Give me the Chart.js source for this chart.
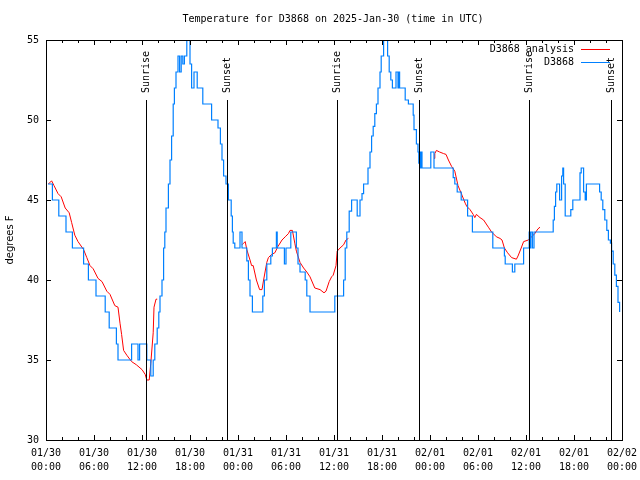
<!DOCTYPE html>
<html>
<head>
<meta charset="utf-8">
<script src="https://cdn.jsdelivr.net/npm/chart.js@4/dist/chart.umd.min.js"></script>
<style>
  html, body { margin: 0; padding: 0; background: #fff; }
  #myChart { display: block; }
</style>
</head>
<body>
<canvas id="myChart" width="640" height="480"></canvas>
<script>
// hours since 01/30 00:00 UTC
const tickDates = ['01/30', '01/30', '01/30', '01/30', '01/31', '01/31', '01/31', '01/31', '02/01', '02/01', '02/01', '02/01', '02/02'];
const tickTimes = ['00:00', '06:00', '12:00', '18:00', '00:00', '06:00', '12:00', '18:00', '00:00', '06:00', '12:00', '18:00', '00:00'];

const sunHours = [12.56, 22.6, 36.4, 46.6, 60.4, 70.6];
const sunLabels = ['Sunrise', 'Sunset', 'Sunrise', 'Sunset', 'Sunrise', 'Sunset'];

// D3868 observations (stepped)
const obsHours = [0.25, 0.8, 1.6, 2.5, 3.3, 4.7, 5.3, 6.25, 7.4, 7.9, 8.8, 9.0, 10.7, 11.5, 11.7, 12.6, 13.1, 13.4, 13.6, 13.9,
  14.1, 14.25, 14.5, 14.7, 14.85, 15.0, 15.3, 15.5, 15.7, 15.9, 16.05, 16.25, 16.5, 16.7, 16.9, 17.1, 17.3, 17.6, 17.9, 18.0,
  18.2, 18.5, 18.9, 19.6, 20.7, 21.5, 21.8, 22.0, 22.2, 22.5, 22.8, 23.15, 23.3, 23.4, 23.6, 24.25, 24.5, 25.1, 25.3, 25.5,
  25.8, 27.1, 27.3, 27.6, 28.1, 28.3, 28.8, 28.9, 29.8, 30.0, 30.6, 31.3, 31.5, 31.75, 32.4, 32.6, 33.0, 36.1, 37.2, 37.4,
  37.6, 37.9, 38.2, 38.9, 39.25, 39.5, 39.7, 40.25, 40.5, 40.7, 40.9, 41.1, 41.3, 41.5, 41.75, 41.9, 42.2, 42.7, 42.9, 43.1,
  43.3, 43.75, 44.0, 44.1, 44.2, 44.9, 45.3, 45.9, 46.0, 46.3, 46.5, 46.6, 46.7, 46.8, 46.9, 47.0, 48.1, 48.5, 50.9, 51.1,
  51.4, 51.9, 52.7, 53.3, 55.85, 57.3, 57.4, 58.3, 58.6, 59.7, 60.4, 60.5, 60.6, 60.8, 61.0, 63.4, 63.55, 63.7, 63.85, 64.2,
  64.45, 64.6, 64.7, 64.9, 65.6, 65.85, 66.75, 66.9, 67.2, 67.4, 67.55, 69.2, 69.4, 69.6, 69.85, 70.1, 70.3, 70.55, 70.7, 70.9,
  71.1, 71.3, 71.5, 71.7];
const obsTemps = [46, 45, 44, 43, 42, 41, 40, 39, 38, 37, 36, 35, 36, 35, 36, 35, 34, 35, 36, 37,
  38, 39, 40, 42, 43, 44.5, 46, 47.5, 49, 51, 52, 53, 54, 53, 54, 53.5, 54, 55, 55.5, 53.5,
  52, 53, 52, 51, 50, 49.5, 48.5, 47.5, 46.5, 46, 45, 44, 43, 42.3, 42, 43, 42, 41.2, 40, 39,
  38, 39, 40, 41, 41.5, 42, 43, 42, 41, 42, 43, 42, 41, 40.5, 40, 39, 38, 39, 40, 42,
  43, 44.3, 45, 44, 45, 45.4, 46, 47, 48, 49, 49.6, 50.4, 51, 52, 53, 54, 55, 54, 53, 52.5,
  52, 53, 52, 53, 52, 51.25, 51, 50.3, 49.4, 48.5, 48, 47.3, 48, 47, 48, 47, 48, 47, 46.4, 46,
  45.5, 45, 44, 43, 42, 41.5, 41, 40.5, 41, 42, 43, 42, 43, 42, 43, 43.75, 44.6, 45.5, 46, 45,
  46.5, 47, 46, 44, 44.4, 45, 46.7, 47, 45.5, 45, 46, 45.5, 45, 44.4, 43.75, 43.1, 42.5, 42.3, 41.8, 41,
  40.3, 39.6, 38.6, 38];

// D3868 analysis (null = gap)
const anaHours = [0.3, 0.7, 1.0, 1.5, 1.9, 2.4, 2.9, 3.2, 3.6, 4.0, 4.7, 5.1, 5.5, 5.9, 6.5, 7.0, 7.6, 8.0, 8.6, 9.0,
  9.25, 9.45, 9.7, 10.1, 10.7, 11.3, 12.0, 12.4, 12.6, 12.9, 13.1, 13.4, 13.5, 13.75, 13.9, 19,
  24.5, 24.7, 24.9, 25.1, 25.5, 25.7, 25.9, 26.3, 26.7, 27.0, 27.2, 27.6, 27.8, 28.2, 28.6, 29.0, 29.5, 29.9, 30.3, 30.5,
  30.8, 31.1, 31.3, 31.75, 32.2, 32.6, 33.0, 33.6, 34.25, 34.75, 35.0, 35.4, 35.7, 35.9, 36.25, 36.4, 36.75, 37.2, 37.5, 37.8, 43,
  48.5, 48.6, 48.8, 49.2, 49.7, 50.0, 50.3, 50.7, 51.1, 51.5, 52.0, 52.4, 52.6, 53.0, 53.4, 53.6, 53.8, 54.25, 54.7, 55.3,
  55.7, 56.3, 56.75, 57.0, 57.3, 57.7, 58.2, 58.8, 59.0, 59.4, 59.7, 60.3, 60.7, 61.1, 61.5, 61.75];
const anaTemps = [46.0, 46.2, 45.9, 45.4, 45.2, 44.5, 44.2, 43.6, 42.8, 42.4, 41.9, 41.4, 40.9, 40.7, 40.1, 39.9, 39.3, 39.1, 38.4, 38.3,
  37.3, 36.6, 35.6, 35.3, 34.9, 34.7, 34.4, 34.1, 33.75, 33.75, 34.8, 36.7, 38.3, 38.8, 38.8, null,
  42.2, 42.3, 42.4, 41.9, 41.25, 40.9, 40.9, 40.0, 39.4, 39.4, 40.0, 41.1, 41.4, 41.6, 41.7, 42.1, 42.5, 42.7, 42.9, 43.1,
  43.1, 42.3, 41.8, 41.1, 40.75, 40.5, 40.2, 39.5, 39.4, 39.2, 39.3, 39.9, 40.2, 40.3, 40.9, 41.8, 42.0, 42.2, 42.5, 42.6, null,
  47.6, 47.9, 48.1, 48.0, 47.9, 47.85, 47.5, 47.1, 46.8, 45.9, 45.3, 44.8, 44.6, 44.4, 44.1, 43.9, 44.1, 43.9, 43.75, 43.3,
  43.0, 42.7, 42.6, 42.5, 42.0, 41.7, 41.4, 41.3, 41.5, 42.0, 42.4, 42.5, 42.7, 42.9, 43.2, 43.3];

const obsColor = 'rgb(0,128,255)';
const anaColor = 'rgb(255,0,0)';
const monoFont = "'DejaVu Sans Mono', monospace";

const toPoints = (xs, ys) => xs.map((x, i) => ({ x: x, y: ys[i] }));

// frame, inward ticks, sunrise/sunset markers, title and key
const decorations = {
  id: 'decorations',
  afterDraw(chart) {
    const ctx = chart.ctx;
    const area = chart.chartArea;
    const xs = chart.scales.x;
    const ys = chart.scales.y;
    ctx.save();
    ctx.strokeStyle = '#000';
    ctx.lineWidth = 1;

    // sun lines
    sunHours.forEach((h, i) => {
      const px = Math.round(xs.getPixelForValue(h)) + 0.5;
      ctx.beginPath();
      ctx.moveTo(px, area.top + 60);
      ctx.lineTo(px, area.bottom);
      ctx.stroke();
      ctx.save();
      ctx.translate(px, area.top + 53);
      ctx.rotate(-Math.PI / 2);
      ctx.font = '10px ' + monoFont;
      ctx.fillStyle = '#000';
      ctx.textAlign = 'left';
      ctx.textBaseline = 'middle';
      ctx.fillText(sunLabels[i], 0, 0);
      ctx.restore();
    });

    // border
    ctx.strokeRect(Math.round(area.left) + 0.5, Math.round(area.top) + 0.5,
      Math.round(area.right - area.left), Math.round(area.bottom - area.top));

    // x ticks (major 6h, minor 2h)
    ctx.beginPath();
    for (let h = 0; h <= 72; h += 2) {
      const px = Math.round(xs.getPixelForValue(h)) + 0.5;
      const len = h % 6 === 0 ? 5 : 3;
      ctx.moveTo(px, area.bottom);
      ctx.lineTo(px, area.bottom - len);
      ctx.moveTo(px, area.top);
      ctx.lineTo(px, area.top + len);
    }
    // y ticks
    for (let v = 30; v <= 55; v += 5) {
      const py = Math.round(ys.getPixelForValue(v)) + 0.5;
      ctx.moveTo(area.left, py);
      ctx.lineTo(area.left + 5, py);
      ctx.moveTo(area.right, py);
      ctx.lineTo(area.right - 5, py);
    }
    ctx.stroke();

    // title
    ctx.fillStyle = '#000';
    ctx.font = '10px ' + monoFont;
    ctx.textAlign = 'center';
    ctx.textBaseline = 'middle';
    ctx.fillText('Temperature for D3868 on 2025-Jan-30 (time in UTC)', 333, 19);

    // key
    const keys = [['D3868 analysis', anaColor], ['D3868', obsColor]];
    keys.forEach((k, i) => {
      const y = area.top + 9 + i * 13;
      ctx.fillStyle = '#000';
      ctx.textAlign = 'right';
      ctx.fillText(k[0], 574, y);
      ctx.strokeStyle = k[1];
      ctx.beginPath();
      ctx.moveTo(581, y + 0.5);
      ctx.lineTo(610, y + 0.5);
      ctx.stroke();
    });
    ctx.restore();
  }
};

const ctx = document.getElementById('myChart').getContext('2d');

const chart = new Chart(ctx, {
  type: 'line',
  data: {
    datasets: [
      {
        label: 'D3868',
        data: toPoints(obsHours, obsTemps),
        borderColor: obsColor,
        borderWidth: 1.2,
        stepped: 'before',
        pointRadius: 0,
        fill: false
      },
      {
        label: 'D3868 analysis',
        data: toPoints(anaHours, anaTemps),
        borderColor: anaColor,
        borderWidth: 1,
        pointRadius: 0,
        tension: 0,
        spanGaps: false,
        fill: false
      }
    ]
  },
  options: {
    responsive: false,
    animation: false,
    layout: { padding: { top: 40, right: 18, left: 0, bottom: 0 } },
    plugins: {
      legend: { display: false },
      tooltip: { enabled: false },
      title: { display: false }
    },
    scales: {
      x: {
        type: 'linear',
        min: 0,
        max: 72,
        grid: { display: false, drawTicks: false },
        border: { display: false },
        afterFit(scale) {
          scale.height = 40;
          scale.paddingLeft = 0;
          scale.paddingRight = 0;
        },
        ticks: {
          stepSize: 6,
          autoSkip: false,
          maxRotation: 0,
          padding: 6,
          color: '#000',
          font: { family: monoFont, size: 10, lineHeight: 1.4 },
          callback: (value, index) => [tickDates[index], tickTimes[index]]
        }
      },
      y: {
        min: 30,
        max: 55,
        grid: { display: false, drawTicks: false },
        border: { display: false },
        afterFit(scale) { scale.width = 46; },
        title: {
          display: true,
          text: 'degrees F',
          color: '#000',
          font: { family: "'DejaVu Sans', sans-serif", size: 10 },
          padding: { top: 4, bottom: 0 }
        },
        ticks: {
          stepSize: 5,
          padding: 7,
          color: '#000',
          font: { family: monoFont, size: 10 }
        }
      }
    }
  },
  plugins: [decorations]
});
</script>
</body>
</html>
